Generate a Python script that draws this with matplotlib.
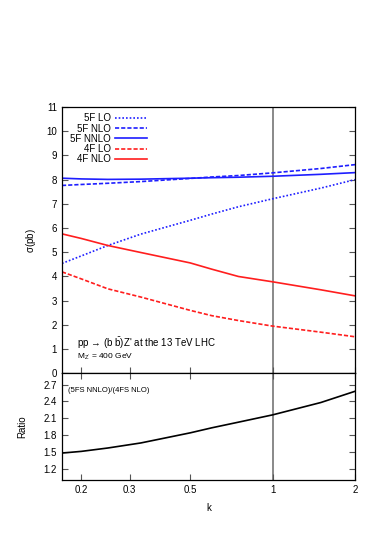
import numpy as np
import matplotlib
matplotlib.use("Agg")
import matplotlib.pyplot as plt
from matplotlib.ticker import FixedLocator, FixedFormatter, NullLocator

plt.rcParams['font.family'] = ['Liberation Sans', 'DejaVu Sans']
plt.rcParams['mathtext.fontset'] = 'custom'
plt.rcParams['mathtext.rm'] = 'Liberation Sans'
plt.rcParams['mathtext.it'] = 'Liberation Sans'

# scale factor k
k = [0.17, 0.2, 0.25, 0.33, 0.5, 0.6, 0.75, 1.0, 1.5, 2.0]

# cross sections (pb)
lo_5f = [4.54, 4.85, 5.28, 5.75, 6.32, 6.58, 6.88, 7.21, 7.65, 8.00]
nlo_5f = [7.76, 7.80, 7.85, 7.92, 8.05, 8.11, 8.17, 8.28, 8.46, 8.62]
nnlo_5f = [8.06, 8.03, 8.01, 8.02, 8.06, 8.08, 8.10, 8.14, 8.22, 8.29]
lo_4f = [4.19, 3.90, 3.49, 3.15, 2.60, 2.38, 2.18, 1.95, 1.70, 1.51]
nlo_4f = [5.76, 5.57, 5.28, 4.99, 4.56, 4.30, 4.00, 3.78, 3.45, 3.20]

# ratio (5FS NNLO)/(4FS NLO)
ratio = [1.48, 1.51, 1.57, 1.66, 1.84, 1.93, 2.03, 2.16, 2.38, 2.58]

xticks = [0.2, 0.3, 0.5, 1, 2]
xlabels = ['0.2', '0.3', '0.5', '1', '2']

blue = '#1e1eff'
red = '#ff1e1e'

fig = plt.figure(figsize=(3.74, 5.34), dpi=100)
ax1 = fig.add_axes([0.1658, 0.3009, 0.7834, 0.4987])
ax2 = fig.add_axes([0.1658, 0.1011, 0.7834, 0.1998])

lw = 1.2
ax1.plot(k, lo_5f, color=blue, lw=lw, ls=(0, (1, 1.2)), label='5F LO')
ax1.plot(k, nlo_5f, color=blue, lw=lw, ls=(0, (2.5, 1.2)), label='5F NLO')
ax1.plot(k, nnlo_5f, color=blue, lw=lw, ls='-', label='5F NNLO')
ax1.plot(k, lo_4f, color=red, lw=lw, ls=(0, (2.5, 1.2)), label='4F LO')
ax1.plot(k, nlo_4f, color=red, lw=lw, ls='-', label='4F NLO')

ax2.plot(k, ratio, color='black', lw=lw)

for ax in (ax1, ax2):
    ax.set_xscale('log')
    ax.set_xlim(0.17, 2.0)
    ax.axvline(1.0, color='#808080', lw=1.3, zorder=0)
    ax.xaxis.set_major_locator(FixedLocator(xticks))
    ax.xaxis.set_minor_locator(NullLocator())
    ax.tick_params(direction='in', length=4, width=0.8, labelsize=7,
                   right=True, colors='#555555', labelcolor='black')
    for s in ax.spines.values():
        s.set_linewidth(0.9)

ax1.set_ylim(0, 11)
ax1.set_yticks(range(0, 12))
ax1.tick_params(axis='x', bottom=True, top=False, labelbottom=False)
ax1.set_ylabel(r'$\sigma$(pb)', fontsize=7, labelpad=6)

ax2.set_ylim(1.0, 2.9)
ax2.set_yticks([1.2, 1.5, 1.8, 2.1, 2.4, 2.7])
ax2.set_yticklabels(['1.2', '1.5', '1.8', '2.1', '2.4', '2.7'])
ax2.tick_params(axis='x', top=True, bottom=True)
ax2.xaxis.set_major_formatter(FixedFormatter(xlabels))
ax2.set_ylabel('Ratio', fontsize=7, labelpad=12)
ax2.set_xlabel('k', fontsize=7, labelpad=6)

leg = ax1.legend(loc='upper left', bbox_to_anchor=(0.005, 1.0), frameon=False,
                 fontsize=7, markerfirst=False, handlelength=3.2,
                 handletextpad=0.5, labelspacing=0.02, borderaxespad=0.25)

ax1.text(0.05, 0.112, "pp \u2192 (b $\\bar{\\rm b}$)Z' at the 13 TeV LHC",
         transform=ax1.transAxes, fontsize=7, va='center', ha='left')
ax1.text(0.05, 0.062, r"M$_{\rm Z'}$ = 400 GeV", transform=ax1.transAxes,
         fontsize=6, va='center', ha='left')
ax2.text(0.02, 0.84, '(5FS NNLO)/(4FS NLO)', transform=ax2.transAxes,
         fontsize=5.5, va='center', ha='left')

fig.savefig('out.png', dpi=100)
